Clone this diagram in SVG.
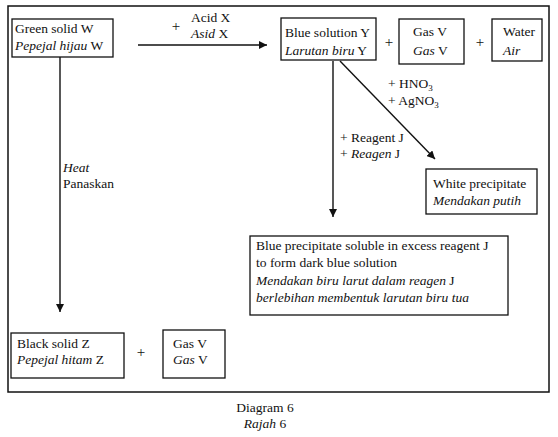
<svg xmlns="http://www.w3.org/2000/svg" width="558" height="437" viewBox="0 0 558 437" font-family="Liberation Serif, Times New Roman, serif">
<style>
text{font-family:"Liberation Serif","Times New Roman",serif;font-size:13.5px;fill:#111}
.i{font-style:italic}
.p{font-size:15px;text-anchor:middle}
.box{fill:#fff;stroke:#111;stroke-width:1.3}
.ln{stroke:#111;stroke-width:1.4;fill:none}
.sub{font-size:9px}
</style>
<defs>
<marker id="ah" viewBox="0 0 10 10" refX="10" refY="5" markerWidth="8" markerHeight="8" markerUnits="userSpaceOnUse" orient="auto">
<path d="M0,0 L10,5 L0,10 z" fill="#111"/>
</marker>
</defs>
<rect width="558" height="437" fill="#fff"/>
<rect x="8" y="6" width="541" height="386" fill="none" stroke="#111" stroke-width="1.5"/>

<g id="connectors">
<line class="ln" x1="138" y1="45" x2="267" y2="45" marker-end="url(#ah)"/>
<line class="ln" x1="60" y1="57" x2="60" y2="312" marker-end="url(#ah)"/>
<line class="ln" x1="333" y1="61" x2="333" y2="217" marker-end="url(#ah)"/>
<line class="ln" x1="340" y1="61" x2="435" y2="159" marker-end="url(#ah)"/>
<text x="176" y="31" class="p">+</text>
<text x="191" y="22">Acid X</text>
<text x="191" y="38"><tspan class="i">Asid</tspan> X</text>
<text x="63" y="172" class="i">Heat</text>
<text x="63" y="188">Panaskan</text>
<text x="388" y="88">+ HNO<tspan class="sub" dy="3">3</tspan></text>
<text x="388" y="105">+ AgNO<tspan class="sub" dy="3">3</tspan></text>
<text x="340" y="142">+ Reagent J</text>
<text x="340" y="158">+ <tspan class="i">Reagen</tspan> J</text>
<text x="389" y="47" class="p">+</text>
<text x="480" y="47" class="p">+</text>
<text x="141" y="357" class="p">+</text>
</g>

<g id="W">
<rect class="box" x="12" y="19" width="101" height="38"/>
<text x="15" y="33">Green solid W</text>
<text x="15" y="50"><tspan class="i">Pepejal hijau</tspan> W</text>
</g>
<g id="Y">
<rect class="box" x="281" y="18" width="95" height="42"/>
<text x="285" y="37">Blue solution Y</text>
<text x="285" y="55"><tspan class="i">Larutan biru</tspan> Y</text>
</g>
<g id="gasV1">
<rect class="box" x="399" y="19" width="65" height="45"/>
<text x="413" y="36">Gas V</text>
<text x="413" y="55"><tspan class="i">Gas</tspan> V</text>
</g>
<g id="water">
<rect class="box" x="492" y="19" width="50" height="42"/>
<text x="503" y="36">Water</text>
<text x="503" y="55" class="i">Air</text>
</g>
<g id="white">
<rect class="box" x="426" y="169" width="111" height="45"/>
<text x="433" y="188">White precipitate</text>
<text x="433" y="205" class="i">Mendakan putih</text>
</g>
<g id="bluePpt">
<rect class="box" x="250" y="236" width="258" height="79"/>
<text x="256" y="250">Blue precipitate soluble in excess reagent J</text>
<text x="256" y="267">to form dark blue solution</text>
<text x="256" y="285"><tspan class="i">Mendakan biru larut dalam reagen</tspan> J</text>
<text x="256" y="302" class="i">berlebihan membentuk larutan biru tua</text>
</g>
<g id="Z">
<rect class="box" x="11" y="333" width="113" height="45"/>
<text x="17" y="348">Black solid Z</text>
<text x="17" y="364"><tspan class="i">Pepejal hitam</tspan> Z</text>
</g>
<g id="gasV2">
<rect class="box" x="163" y="330" width="62" height="48"/>
<text x="173" y="348">Gas V</text>
<text x="173" y="364"><tspan class="i">Gas</tspan> V</text>
</g>
<g id="caption">
<text x="265" y="412" text-anchor="middle">Diagram 6</text>
<text x="265" y="428" text-anchor="middle"><tspan class="i">Rajah</tspan> 6</text>
</g>
</svg>
